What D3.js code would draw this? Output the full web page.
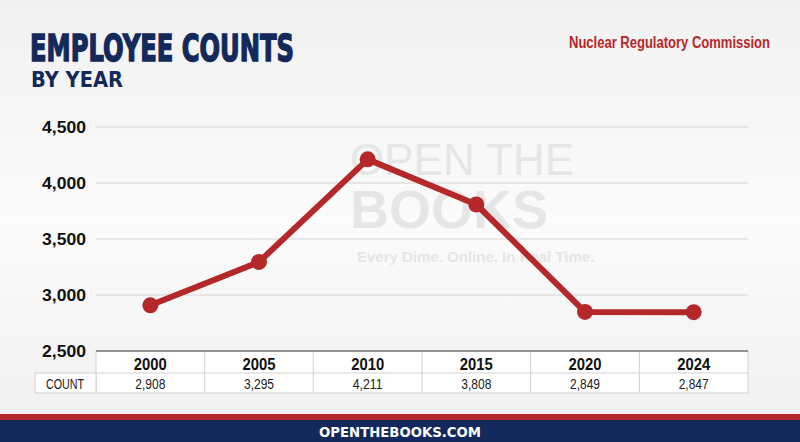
<!DOCTYPE html>
<html><head><meta charset="utf-8">
<script src="https://cdn.jsdelivr.net/npm/d3@7"></script>
<style>body{margin:0;background:#fff}svg{display:block}</style>
</head><body>
<svg id="c" width="800" height="442"></svg>
<script>
const years = ["2000","2005","2010","2015","2020","2024"];
const counts = [2908,3295,4211,3808,2849,2847];
const yTicks = [2500,3000,3500,4000,4500];
const countLabels = ["2,908","3,295","4,211","3,808","2,849","2,847"];

const svg = d3.select("#c");
const navy="#13295b", red="#b5282a";
const defs=svg.append("defs");
const g=defs.append("linearGradient").attr("id","bg").attr("x1",0).attr("y1",0).attr("x2",0).attr("y2",1);
g.append("stop").attr("offset","0").attr("stop-color","#f1f1f1");
g.append("stop").attr("offset","0.5").attr("stop-color","#fbfbfb");
g.append("stop").attr("offset","1").attr("stop-color","#f0f0f0");
svg.append("rect").attr("width",800).attr("height",442).attr("fill","url(#bg)");

const x = d3.scaleBand().domain(years).range([96,748]);
const y = d3.scaleLinear().domain([2500,4500]).range([351,127]);
const narrow="Liberation Sans Narrow, Liberation Sans, sans-serif";

svg.append("g").selectAll("line").data(yTicks.slice(1)).join("line")
 .attr("x1",96).attr("x2",748).attr("y1",d=>y(d)).attr("y2",d=>y(d))
 .attr("stroke","#d4d4d4").attr("stroke-width",1);
svg.append("g").selectAll("text").data(yTicks).join("text")
 .attr("x",86).attr("y",d=>y(d)+6).attr("text-anchor","end")
 .attr("font-family",narrow).attr("font-weight","bold")
 .attr("font-size",17).attr("textLength",44).attr("lengthAdjust","spacingAndGlyphs").attr("fill","#111").text(d=>d3.format(",")(d));

svg.append("text").attr("x",350).attr("y",175).attr("font-family","Liberation Sans, sans-serif").attr("font-size",44).attr("fill","#e6e6e6").text("OPEN THE");
svg.append("text").attr("x",350).attr("y",228).attr("font-family","Liberation Sans, sans-serif").attr("font-weight","bold").attr("font-size",54).attr("fill","#e6e6e6").text("BOOKS");
svg.append("text").attr("x",357).attr("y",262).attr("font-family","Liberation Sans, sans-serif").attr("font-weight","bold").attr("font-size",15).attr("fill","#e6e6e6").text("Every Dime. Online. In Real Time.");

const tb=svg.append("g");
tb.append("rect").attr("x",96).attr("y",351).attr("width",652).attr("height",42).attr("fill","#fff").attr("stroke","#d0d0d0");
tb.append("rect").attr("x",35).attr("y",373).attr("width",61).attr("height",20).attr("fill","#fff").attr("stroke","#d0d0d0");
tb.append("line").attr("x1",96).attr("x2",748).attr("y1",373).attr("y2",373).attr("stroke","#d0d0d0");
tb.selectAll(".v").data(years.slice(1)).join("line").attr("x1",d=>x(d)).attr("x2",d=>x(d)).attr("y1",351).attr("y2",393).attr("stroke","#d0d0d0");
tb.append("line").attr("x1",96).attr("x2",748).attr("y1",351).attr("y2",351).attr("stroke","#777").attr("stroke-width",1.5);
tb.selectAll(".yr").data(years).join("text").attr("x",d=>x(d)+x.bandwidth()/2).attr("y",370).attr("text-anchor","middle")
 .attr("font-family",narrow).attr("font-weight","bold").attr("font-size",17).attr("textLength",33).attr("lengthAdjust","spacingAndGlyphs").attr("fill","#111").text(d=>d);
tb.selectAll(".ct").data(countLabels).join("text").attr("x",(d,i)=>x(years[i])+x.bandwidth()/2).attr("y",389).attr("text-anchor","middle")
 .attr("font-family",narrow).attr("font-size",15).attr("textLength",30).attr("lengthAdjust","spacingAndGlyphs").attr("fill","#222").text(d=>d);
tb.append("text").attr("x",65).attr("y",389).attr("text-anchor","middle").attr("font-family",narrow).attr("font-size",15).attr("textLength",38).attr("lengthAdjust","spacingAndGlyphs").attr("fill","#222").text("COUNT");

const line=d3.line().x((d,i)=>x(years[i])+x.bandwidth()/2).y(d=>y(d));
svg.append("path").datum(counts).attr("d",line).attr("fill","none").attr("stroke",red).attr("stroke-width",6).attr("stroke-linejoin","round");
svg.selectAll(".pt").data(counts).join("circle").attr("cx",(d,i)=>x(years[i])+x.bandwidth()/2).attr("cy",d=>y(d)).attr("r",8).attr("fill",red);

svg.append("text").attr("x",30).attr("y",61).attr("font-family","DejaVu Sans, sans-serif").attr("font-weight","900").attr("font-size",38)
 .attr("textLength",264).attr("lengthAdjust","spacingAndGlyphs").attr("fill",navy).attr("stroke",navy).attr("stroke-width",1.6).text("EMPLOYEE COUNTS");
svg.append("text").attr("x",31).attr("y",87).attr("font-family","DejaVu Sans, sans-serif").attr("font-weight","bold").attr("font-size",21)
 .attr("textLength",92).attr("lengthAdjust","spacingAndGlyphs").attr("fill",navy).text("BY YEAR");
svg.append("text").attr("x",569).attr("y",48).attr("font-family",narrow).attr("font-weight","bold").attr("font-size",16)
 .attr("textLength",201).attr("lengthAdjust","spacingAndGlyphs").attr("fill",red).text("Nuclear Regulatory Commission");

svg.append("rect").attr("x",0).attr("y",414).attr("width",800).attr("height",6).attr("fill",red);
svg.append("rect").attr("x",0).attr("y",420).attr("width",800).attr("height",22).attr("fill",navy);
svg.append("text").attr("x",400).attr("y",437).attr("text-anchor","middle").attr("font-family","DejaVu Sans, sans-serif").attr("font-weight","bold").attr("font-size",14)
 .attr("textLength",162).attr("lengthAdjust","spacingAndGlyphs").attr("fill","#fff").text("OPENTHEBOOKS.COM");
</script></body></html>
